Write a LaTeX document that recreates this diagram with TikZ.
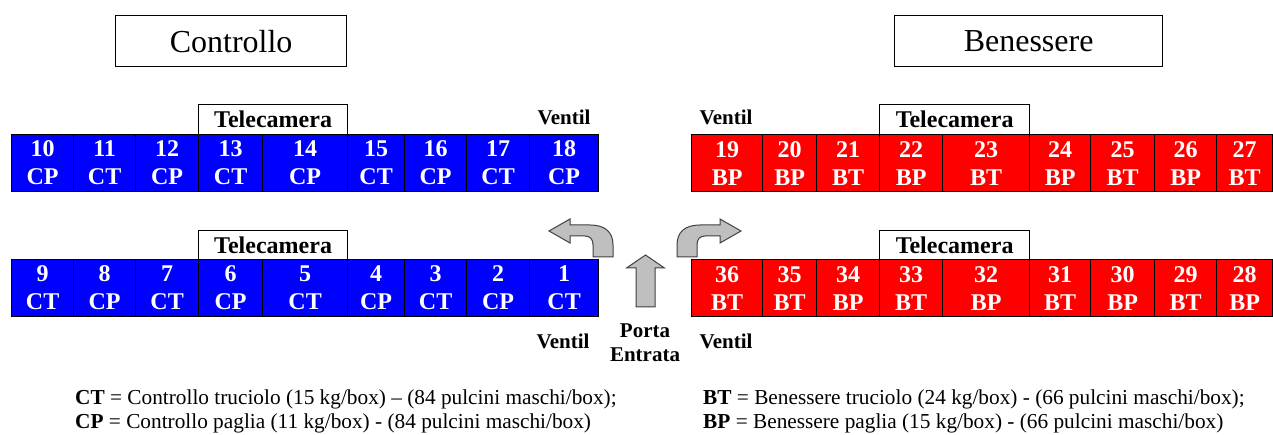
\documentclass[tikz,border=0pt]{standalone}
\usepackage{fontspec}
\setmainfont{Liberation Serif}
\begin{document}
\begin{tikzpicture}
[x=1pt,y=-1pt,
cell/.style={draw,line width=1.2pt,anchor=north west,inner sep=0pt,minimum height=57pt,text=white,align=center,font=\bfseries\fontsize{24}{28}\selectfont},
ctrl/.style={cell,fill=blue},
ben/.style={cell,fill=red},
cam/.style={draw,line width=1.2pt,anchor=north west,inner sep=0pt,minimum width=150pt,minimum height=30pt,font=\bfseries\fontsize{24}{28}\selectfont},
title/.style={draw,line width=1.2pt,anchor=north west,inner sep=0pt,minimum height=51pt,font=\fontsize{32}{36}\selectfont},
lbl/.style={inner sep=0pt,font=\bfseries\fontsize{21}{24.5}\selectfont},
legend/.style={anchor=base west,inner sep=0pt,font=\fontsize{21.3}{24}\selectfont},
turn/.style={fill=black!25,draw=black!75,line width=1pt}]
\useasboundingbox (0,0) rectangle (1273,435);
\node[title,minimum width=231pt] (ctrltitle) at (115,15) {Controllo};
\node[title,minimum width=268pt] (bentitle) at (894,15) {Benessere};
\foreach \a/\b/\p/\q/\r/\s in {11/73/10/CP/9/CT,73/135/11/CT/8/CP,135/198/12/CP/7/CT,198/262/13/CT/6/CP,262/347/14/CP/5/CT,347/404/15/CT/4/CP,404/466/16/CP/3/CT,466/529/17/CT/2/CP,529/598/18/CP/1/CT}
{\pgfmathsetmacro{\w}{\b-\a}
\node[ctrl,minimum width=\w pt] (c\p) at (\a,134) {\p\\\q};
\node[ctrl,minimum width=\w pt] (c\r) at (\a,259) {\r\\\s};}
\foreach \a/\b/\p/\q/\r/\s in {691/762/19/BP/36/BT,762/816/20/BP/35/BT,816/879/21/BT/34/BP,879/942/22/BP/33/BT,942/1029/23/BT/32/BP,1029/1090/24/BP/31/BT,1090/1154/25/BT/30/BP,1154/1216/26/BP/29/BT,1216/1272/27/BT/28/BP}
{\pgfmathsetmacro{\w}{\b-\a}
\node[ben,minimum width=\w pt] (c\p) at (\a,134) {\p\\\q};
\node[ben,minimum width=\w pt] (c\r) at (\a,259) {\r\\\s};}
\node[cam,minimum width=149pt] (camtl) at (198,104) {Telecamera};
\node[cam,minimum width=149pt,minimum height=29pt] (cambl) at (198,230) {Telecamera};
\node[cam] (camtr) at (879,104) {Telecamera};
\node[cam,minimum height=29pt] (cambr) at (879,230) {Telecamera};
\node[lbl,anchor=base] (ventl) at (564,125) {Ventil};
\node[lbl,anchor=base] (ventr) at (726,125) {Ventil};
\node[lbl,anchor=base] (ventbl) at (563,348) {Ventil};
\node[lbl,anchor=base] (ventbr) at (726,348) {Ventil};
\node[lbl,align=center] (porta) at (645,342.6) {Porta\\Entrata};
\path[turn] (613,257) -- (613,245) .. controls (613,232) and (605,225) .. (590,225) -- (570,225) -- (570,219) -- (549,231) -- (570,243) -- (570,236) -- (585,236) .. controls (590,236) and (593,239) .. (593,245) -- (593,257) -- cycle;
\path[turn] (677,257) -- (677,245) .. controls (677,232) and (685,225) .. (700,225) -- (720,225) -- (720,219) -- (741,231) -- (720,243) -- (720,236) -- (705,236) .. controls (700,236) and (697,239) .. (697,245) -- (697,257) -- cycle;
\path[turn] (636,307) -- (636,268) -- (626.5,268) -- (645.5,255) -- (664.5,268) -- (655,268) -- (655,307) -- cycle;
\node[legend] (legct) at (75,404) {\textbf{CT} = Controllo truciolo (15 kg/box) – (84 pulcini maschi/box);};
\node[legend] (legcp) at (75,428) {\textbf{CP} = Controllo paglia (11 kg/box) - (84 pulcini maschi/box)};
\node[legend] (legbt) at (703,404) {\textbf{BT} = Benessere truciolo (24 kg/box) - (66 pulcini maschi/box);};
\node[legend] (legbp) at (703,428) {\textbf{BP} = Benessere paglia (15 kg/box) - (66 pulcini maschi/box)};
\end{tikzpicture}
\end{document}
